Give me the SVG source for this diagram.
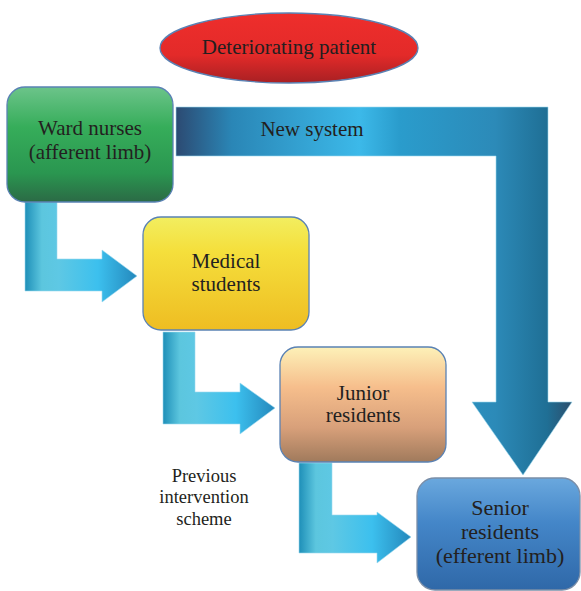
<svg xmlns="http://www.w3.org/2000/svg" width="581" height="591" viewBox="0 0 581 591">
<style>
text{font-family:"Liberation Serif","Times New Roman",serif;font-size:21px;fill:#231f20;text-anchor:middle}
.small{font-size:18.5px}
.big{font-size:22px}
.box{stroke:#5a82b4;stroke-width:1.3}
.arr{stroke:#9ad8ee;stroke-width:0.6}
</style>
<defs>
<linearGradient id="gRed" x1="0" y1="0" x2="0" y2="1">
<stop offset="0" stop-color="#ee2e2c"/><stop offset="0.6" stop-color="#e32a29"/><stop offset="1" stop-color="#a82023"/>
</linearGradient>
<linearGradient id="gGreen" x1="0" y1="0" x2="0" y2="1">
<stop offset="0" stop-color="#6cc48a"/><stop offset="0.35" stop-color="#36ad5a"/><stop offset="0.75" stop-color="#2a9650"/><stop offset="1" stop-color="#2b6a45"/>
</linearGradient>
<linearGradient id="gYellow" x1="0" y1="0" x2="0" y2="1">
<stop offset="0" stop-color="#f2ee60"/><stop offset="0.3" stop-color="#f5df3c"/><stop offset="1" stop-color="#eebd22"/>
</linearGradient>
<linearGradient id="gPeach" x1="0" y1="0" x2="0" y2="1">
<stop offset="0" stop-color="#fdf1b8"/><stop offset="0.35" stop-color="#f6be8c"/><stop offset="0.7" stop-color="#d8a07a"/><stop offset="1" stop-color="#a07a5c"/>
</linearGradient>
<linearGradient id="gBlue" x1="0" y1="0" x2="0" y2="1">
<stop offset="0" stop-color="#6aa8de"/><stop offset="0.4" stop-color="#4486c8"/><stop offset="1" stop-color="#2f68a8"/>
</linearGradient>
<linearGradient id="gNew" gradientUnits="userSpaceOnUse" x1="176" y1="0" x2="575" y2="0">
<stop offset="0" stop-color="#2c4a72"/><stop offset="0.14" stop-color="#2a86b6"/><stop offset="0.46" stop-color="#3cb9e9"/><stop offset="0.56" stop-color="#2a9ccc"/><stop offset="0.8" stop-color="#2c8ab8"/><stop offset="0.93" stop-color="#1f6f95"/><stop offset="1" stop-color="#2d4a68"/>
</linearGradient>
<linearGradient id="gA1" gradientUnits="userSpaceOnUse" x1="25" y1="0" x2="137" y2="0">
<stop offset="0" stop-color="#1e8fb8"/><stop offset="0.15" stop-color="#5cc6de"/><stop offset="0.3" stop-color="#5ec8e4"/><stop offset="0.65" stop-color="#3cc0ee"/><stop offset="1" stop-color="#2488bc"/>
</linearGradient>
<linearGradient id="gA2" gradientUnits="userSpaceOnUse" x1="163" y1="0" x2="275" y2="0">
<stop offset="0" stop-color="#1e8fb8"/><stop offset="0.15" stop-color="#5cc6de"/><stop offset="0.3" stop-color="#5ec8e4"/><stop offset="0.65" stop-color="#3cc0ee"/><stop offset="1" stop-color="#2488bc"/>
</linearGradient>
<linearGradient id="gA3" gradientUnits="userSpaceOnUse" x1="299" y1="0" x2="411" y2="0">
<stop offset="0" stop-color="#1e8fb8"/><stop offset="0.15" stop-color="#5cc6de"/><stop offset="0.3" stop-color="#5ec8e4"/><stop offset="0.65" stop-color="#3cc0ee"/><stop offset="1" stop-color="#2488bc"/>
</linearGradient>
</defs>
<g id="connectors">
<path id="new-system" class="arr" fill="url(#gNew)" d="M176,107 H548 V402 H572 L523,475 L472,402 H496 V156 H176 Z"/>
<path id="a1" class="arr" fill="url(#gA1)" d="M25,202 H57 V259 H102 V250 L137,276 L102,302 V291 H25 Z"/>
<path id="a2" class="arr" fill="url(#gA2)" d="M163,332 H195 V392 H240 V383 L275,408 L240,434 V424 H163 Z"/>
<path id="a3" class="arr" fill="url(#gA3)" d="M299,463 H332 V515 H377 V512 L411,537 L377,563 V553 H299 Z"/>
<text x="312" y="136">New system</text>
<text class="small" x="204" y="482">Previous</text>
<text class="small" x="204" y="503">intervention</text>
<text class="small" x="204" y="525">scheme</text>
</g>
<g id="deteriorating">
<ellipse cx="289" cy="48" rx="129" ry="35" fill="url(#gRed)" stroke="#5a82b4" stroke-width="1.3"/>
<text x="289" y="54">Deteriorating patient</text>
</g>
<g id="ward">
<rect class="box" x="7" y="87" width="166" height="115" rx="18" fill="url(#gGreen)"/>
<text x="90" y="135">Ward nurses</text>
<text x="90" y="159">(afferent limb)</text>
</g>
<g id="medical">
<rect class="box" x="143" y="217" width="166" height="113" rx="18" fill="url(#gYellow)"/>
<text x="226" y="268">Medical</text>
<text x="226" y="291">students</text>
</g>
<g id="junior">
<rect class="box" x="280" y="347" width="166" height="115" rx="18" fill="url(#gPeach)"/>
<text x="363" y="400">Junior</text>
<text x="363" y="422">residents</text>
</g>
<g id="senior">
<rect x="417" y="478" width="163" height="112" rx="18" fill="url(#gBlue)" stroke="#7a8ea8" stroke-width="1.3"/>
<text class="big" x="500" y="515">Senior</text>
<text class="big" x="500" y="539">residents</text>
<text class="big" x="500" y="563">(efferent limb)</text>
</g>
</svg>
